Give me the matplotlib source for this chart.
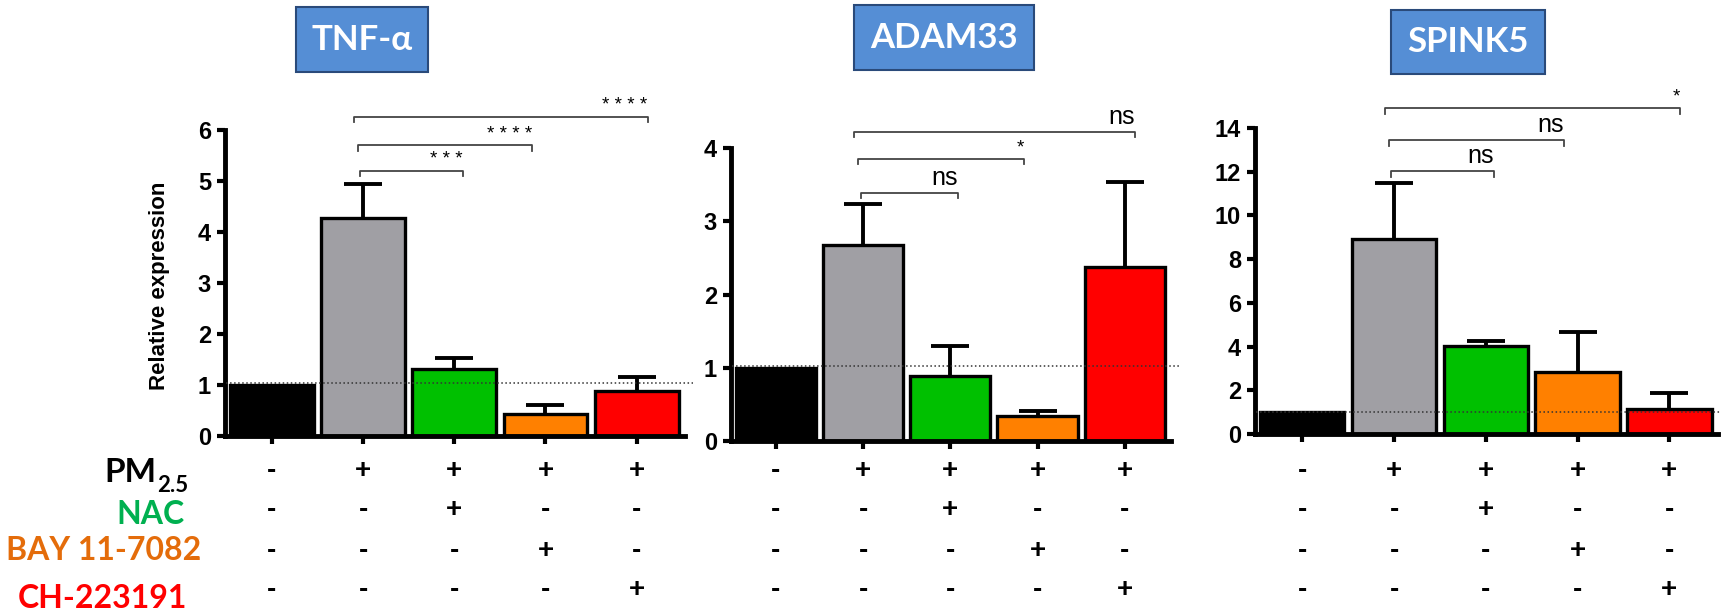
import numpy as np
import matplotlib
matplotlib.use('Agg')
import matplotlib.pyplot as plt
from matplotlib.patches import Rectangle
from matplotlib.transforms import blended_transform_factory

plt.rcParams['font.family'] = ['Liberation Sans', 'DejaVu Sans']

# data
genes = ['TNF-α', 'ADAM33', 'SPINK5']
tnf_mean = [1.0, 4.27, 1.31, 0.43, 0.88]
tnf_err = [0.0, 0.67, 0.22, 0.18, 0.28]
adam_mean = [1.0, 2.67, 0.89, 0.34, 2.38]
adam_err = [0.0, 0.56, 0.41, 0.07, 1.15]
spink_mean = [1.0, 8.9, 4.03, 2.83, 1.15]
spink_err = [0.0, 2.6, 0.24, 1.83, 0.72]
baselines = [1.03, 1.02, 1.0]
ymaxes = [6, 4, 14]
yticks = [range(0, 7), range(0, 5), range(0, 15, 2)]

# significance: (compared bar, bracket height, label)
tnf_sig = [(2, 5.2, '* * *'), (3, 5.7, '* * * *'), (4, 6.26, '* * * *')]
adam_sig = [(2, 3.39, 'ns'), (3, 3.85, '*'), (4, 4.22, 'ns')]
spink_sig = [(2, 12.03, 'ns'), (3, 13.45, 'ns'), (4, 14.9, '*')]

# treatment table
row_names = ['PM', 'NAC', 'BAY 11-7082', 'CH-223191']
pm = ['-', '+', '+', '+', '+']
nac = ['-', '-', '+', '-', '-']
bay = ['-', '-', '-', '+', '-']
ch = ['-', '-', '-', '-', '+']

bar_colors = ['#000000', '#a09fa4', '#00c000', '#ff8000', '#ff0000']
row_colors = ['black', '#00b050', '#e46c0a', '#ff0000']

means = [tnf_mean, adam_mean, spink_mean]
errs = [tnf_err, adam_err, spink_err]
sigs = [tnf_sig, adam_sig, spink_sig]

fig = plt.figure(figsize=(17.21, 6.13), dpi=100)
W, H = 1721.0, 613.0

# axes boxes in pixels: left, right, y of zero, y of top
boxes = [(225, 685, 436, 130), (731, 1171, 441, 148), (1255, 1718, 434, 128)]
title_boxes = [(296, 428, 7, 72), (854, 1034, 5, 70), (1391, 1545, 10, 74)]
row_y = [471, 510, 551, 590]
start_off = [-0.03, -0.06, -0.1]
end_off = [0.09, -0.15, 0.12]
sig_size = {'ns': 18}

for p in range(3):
    l, r, y0, y1 = boxes[p]
    ax = fig.add_axes([l / W, 1 - y0 / H, (r - l) / W, (y0 - y1) / H])
    x = np.arange(5)
    m = np.array(means[p])
    e = np.array(errs[p])
    ax.bar(x, m, width=0.92, color=bar_colors, edgecolor='black', linewidth=2.4, zorder=2)
    eb = ax.errorbar(x[1:], m[1:], yerr=[np.zeros(4), e[1:]], fmt='none', ecolor='black',
                     elinewidth=2.8, capsize=14, capthick=2.8, zorder=3)
    eb[1][0].set_visible(False)  # no cap on the lower side
    ax.plot([-0.5, 4.62], [baselines[p]] * 2, ls=':', color='#333333', lw=1.1,
            clip_on=False, zorder=4)

    ymax = ymaxes[p]
    ax.set_ylim(0, ymax)
    ax.set_xlim(-0.515, 4.53)
    for s in ['top', 'right']:
        ax.spines[s].set_visible(False)
    for s in ['left', 'bottom']:
        ax.spines[s].set_linewidth(3.5)
    ax.set_yticks(list(yticks[p]))
    ax.set_xticks(x)
    ax.set_xticklabels([])
    ax.tick_params(axis='both', length=6, width=3, labelsize=17, pad=4)
    for t in ax.get_yticklabels():
        t.set_fontweight('bold')

    d = ymax * 0.018
    for k, (tgt, yb, lab) in enumerate(sigs[p]):
        xa = 1 + start_off[k]
        xb = tgt + end_off[k]
        ax.plot([xa, xa, xb, xb], [yb - d, yb, yb, yb - d], color='#444444', lw=1.3,
                clip_on=False)
        ax.annotate(lab, (xb, yb), xytext=(0, 2), textcoords='offset points',
                    ha='right', va='bottom', fontsize=sig_size.get(lab, 13.5),
                    annotation_clip=False)

    trans = blended_transform_factory(ax.transData, fig.transFigure)
    for ri, row in enumerate([pm, nac, bay, ch]):
        for i, s in enumerate(row):
            ax.text(i, 1 - row_y[ri] / H, s, transform=trans, ha='center', va='center',
                    fontsize=20, fontweight='bold')

    bl, br, bt, bb = title_boxes[p]
    fig.add_artist(Rectangle((bl / W, 1 - bb / H), (br - bl) / W, (bb - bt) / H,
                             transform=fig.transFigure, facecolor='#558ed5',
                             edgecolor='#2a4a7a', lw=1.5))
    fig.text((bl + br) / 2 / W, 1 - (bt + bb) / 2 / H, genes[p], ha='center', va='center',
             color='white', fontsize=25, fontweight='bold', family=['Lato', 'DejaVu Sans'])

fig.text(160 / W, 1 - 286 / H, 'Relative expression', rotation=90, ha='center',
         va='center', fontsize=16, fontweight='bold')

# treatment labels on the left
lab_font = ['Lato', 'DejaVu Sans']
fig.text(156 / W, 1 - 472 / H, 'PM', ha='right', va='center', fontsize=24,
         fontweight='bold', family=lab_font, color=row_colors[0])
fig.text(157 / W, 1 - 486 / H, '2.5', ha='left', va='center', fontsize=16,
         fontweight='bold', family=lab_font, color=row_colors[0])
fig.text(150 / W, 1 - 514 / H, row_names[1], ha='center', va='center', fontsize=23,
         fontweight='bold', family=lab_font, color=row_colors[1])
fig.text(104 / W, 1 - 550 / H, row_names[2], ha='center', va='center', fontsize=23,
         fontweight='bold', family=lab_font, color=row_colors[2])
fig.text(102 / W, 1 - 598 / H, row_names[3], ha='center', va='center', fontsize=23,
         fontweight='bold', family=lab_font, color=row_colors[3])

fig.savefig('out.png', dpi=100)
